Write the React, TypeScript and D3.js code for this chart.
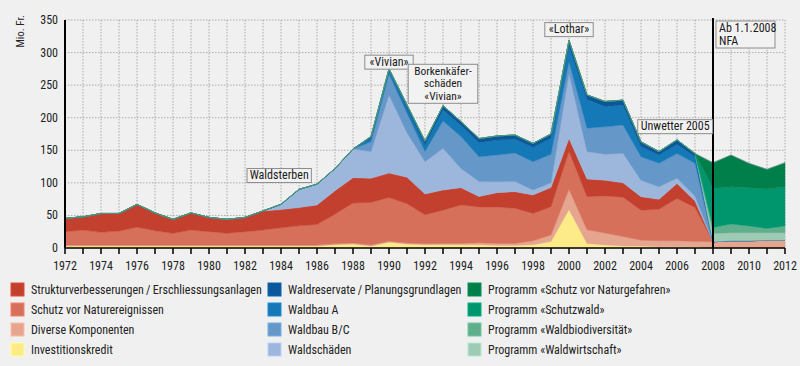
import React from "react";
import * as d3 from "d3";

// Bundesbeiträge Wald 1972–2012, Mio. Fr.
const years = d3.range(1972, 2013);

const investitionskredit = [3, 3, 3, 3, 3, 3, 3, 3, 3, 3, 3, 3, 3, 3, 3, 5, 6, 3, 9, 6, 5, 5, 5, 5, 4, 4, 5, 10, 59, 7, 4.5, 3, 3, 2, 2, 2, 0, 0, 0, 0, 0];
const diverse = [1.5, 1.5, 1.5, 1.5, 1.5, 1.5, 1.5, 1.5, 1.5, 1.5, 1.5, 1.5, 1.5, 1.5, 1.5, 1.5, 1.5, 1.5, 1.5, 1.5, 1.5, 2, 2, 3, 3, 3, 6, 10, 31, 21, 18.5, 14.5, 9, 9, 9, 8, 9.5, 11, 11, 12, 12];
const schutzNatur = [20.5, 23, 19.5, 21.5, 27.5, 22, 18, 23, 20.5, 18, 20.5, 23, 26.5, 29.5, 31.5, 45.5, 61.5, 65.5, 67, 60.5, 44.5, 51, 59, 55, 56, 54, 42, 43.4, 58, 50.8, 57, 60.5, 46, 48.4, 65, 52, 0, 0, 0, 0, 0];
const struktur = [20.6, 20.4, 29, 27, 35, 27.4, 21.5, 26.4, 22, 21.5, 22, 29.4, 28, 28, 30, 36, 39, 37, 37.5, 40.5, 32, 31, 26.6, 16, 22, 25.5, 28.4, 29.6, 20, 27.2, 24, 22, 20.8, 15.3, 23, 10, 0, 0, 0, 0, 0];
const waldschaeden = [0, 0, 0, 0, 0, 0, 0, 0, 0, 0, 0, 0, 8, 28, 32, 34, 44, 41, 120, 68.5, 49.5, 64, 29.4, 23, 16.8, 15.5, 7.6, 7, 100, 42, 40, 45.4, 25.2, 19.3, 8, 8, 0, 0, 0, 0, 0];
const waldbauBC = [0, 0, 0, 0, 0, 0, 0, 0, 0, 0, 0, 0, 0, 0, 0, 0, 0, 15, 32, 30, 15.5, 42, 49, 38, 41, 44, 43.5, 44, 18, 36, 42, 43.4, 36, 36, 38, 50, 0, 0, 0, 0, 0];
const waldbauA = [0, 0, 0, 0, 0, 0, 0, 0, 0, 0, 0, 0, 0, 0, 0, 0, 0, 5, 5, 7, 10, 17, 17, 21.7, 23, 21, 22, 24.4, 23, 44, 31, 30.7, 15.5, 12.8, 14, 10, 0, 0, 0, 0, 0];
const waldreservate = [0, 0, 0, 0, 0, 0, 0, 0, 0, 0, 0, 0, 0, 0, 0, 0, 0, 3, 3, 5.5, 6, 6.5, 6, 6.3, 6.2, 6.5, 6.1, 6.6, 10, 7, 8, 7.5, 7.5, 5.2, 7, 5, 0, 0, 0, 0, 0];
const pWaldwirtschaft = [0, 0, 0, 0, 0, 0, 0, 0, 0, 0, 0, 0, 0, 0, 0, 0, 0, 0, 0, 0, 0, 0, 0, 0, 0, 0, 0, 0, 0, 0, 0, 0, 0, 0, 0, 0, 12.8, 12.5, 12.5, 11.5, 11.5];
const pBiodiversitaet = [0, 0, 0, 0, 0, 0, 0, 0, 0, 0, 0, 0, 0, 0, 0, 0, 0, 0, 0, 0, 0, 0, 0, 0, 0, 0, 0, 0, 0, 0, 0, 0, 0, 0, 0, 0, 9.2, 13.3, 10.3, 6.5, 10.3];
const pSchutzwald = [0, 0, 0, 0, 0, 0, 0, 0, 0, 0, 0, 0, 0, 0, 0, 0, 0, 0, 0, 0, 0, 0, 0, 0, 0, 0, 0, 0, 0, 0, 0, 0, 0, 0, 0, 0, 60, 57.2, 58.8, 60.6, 60.2];
const pNaturgefahren = [0, 0, 0, 0, 0, 0, 0, 0, 0, 0, 0, 0, 0, 0, 0, 0, 0, 0, 0, 0, 0, 0, 0, 0, 0, 0, 0, 0, 0, 0, 0, 0, 0, 0, 0, 0, 39.4, 48.8, 37.4, 30.2, 37];

// stack order, bottom to top
const series = [
  { key: "inv", label: "Investitionskredit", color: "#fdeb88", values: investitionskredit },
  { key: "div", label: "Diverse Komponenten", color: "#e6a58f", values: diverse },
  { key: "sn", label: "Schutz vor Naturereignissen", color: "#d6705a", values: schutzNatur },
  { key: "st", label: "Strukturverbesserungen\u2009/\u2009Erschliessungsanlagen", color: "#c4402e", values: struktur },
  { key: "ws", label: "Waldschäden", color: "#9cb6dc", values: waldschaeden },
  { key: "bc", label: "Waldbau B/C", color: "#6597c9", values: waldbauBC },
  { key: "a", label: "Waldbau A", color: "#1579b7", values: waldbauA },
  { key: "wr", label: "Waldreservate\u2009/\u2009Planungsgrundlagen", color: "#0a5899", values: waldreservate },
  { key: "pww", label: "Programm «Waldwirtschaft»", color: "#9ecbb4", values: pWaldwirtschaft },
  { key: "pwb", label: "Programm «Waldbiodiversität»", color: "#60ae8c", values: pBiodiversitaet },
  { key: "psw", label: "Programm «Schutzwald»", color: "#00966d", values: pSchutzwald },
  { key: "png", label: "Programm «Schutz vor Naturgefahren»", color: "#007f4b", values: pNaturgefahren },
];

// legend columns, top to bottom
const legendCols = [
  ["st", "sn", "div", "inv"],
  ["wr", "a", "bc", "ws"],
  ["png", "psw", "pwb", "pww"],
];

const yTicks = [0, 50, 100, 150, 200, 250, 300, 350];
const xLabels = d3.range(1972, 2013, 2);

const notes = [
  { year: 1983.9, value: 122, lines: ["Waldsterben"] },
  { year: 1990, value: 296, lines: ["«Vivian»"] },
  { year: 1993, value: 282, lines: ["Borkenkäfer-", "schäden", "«Vivian»"] },
  { year: 2000, value: 346, lines: ["«Lothar»"] },
  { year: 2005.9, value: 197, lines: ["Unwetter 2005"] },
];

const FONT = "'Liberation Sans Narrow', 'Roboto Condensed', 'Arial Narrow', 'DejaVu Sans Condensed', sans-serif";

export default function App() {
  const W = 800;
  const H = 366;
  const x = d3.scaleLinear().domain([1972, 2012]).range([65, 785]);
  const y = d3.scaleLinear().domain([0, 350]).range([248, 20]);

  const table = years.map((yr, i) => {
    const row: any = { year: yr };
    series.forEach((s) => (row[s.key] = s.values[i]));
    return row;
  });
  const stacked = d3.stack().keys(series.map((s) => s.key))(table);
  const area = d3
    .area<any>()
    .x((d) => x(d.data.year))
    .y0((d) => y(d[0]))
    .y1((d) => y(d[1]));

  const byKey: any = {};
  series.forEach((s) => (byKey[s.key] = s));

  const lineH = 12.5;

  return (
    <div style={{ position: "absolute", left: 0, top: 0 }}>
      <svg width={W} height={H} style={{ display: "block", fontFamily: FONT }}>
        <rect width={W} height={H} fill="#f0f0f0" />

        {/* grid */}
        {years.map((yr) => (
          <line key={"gx" + yr} x1={x(yr)} x2={x(yr)} y1={y(350)} y2={y(0)} stroke="#9a9a9a" strokeWidth={0.8} strokeDasharray="1.5,1.5" />
        ))}
        {yTicks.map((t) => (
          <line key={"gy" + t} x1={x(1972)} x2={x(2012)} y1={y(t)} y2={y(t)} stroke="#9a9a9a" strokeWidth={0.8} strokeDasharray="1.5,1.5" />
        ))}

        {/* areas */}
        {stacked.map((layer, i) => (
          <path key={layer.key} d={area(layer as any) || ""} fill={series[i].color} stroke={series[i].color} strokeWidth={0.4} />
        ))}
        {/* top outline */}
        <path
          d={d3.line<any>().x((d) => x(d.data.year)).y((d) => y(d[1]))(stacked[stacked.length - 1] as any) || ""}
          fill="none"
          stroke="#8a9a9a"
          strokeWidth={0.6}
        />

        {/* NFA line */}
        <line x1={x(2008)} x2={x(2008)} y1={18} y2={y(0)} stroke="#000" strokeWidth={2} />
        <rect x={x(2008) + 3} y={21} width={59} height={27} fill="#f2f2f2" stroke="#8c8c8c" strokeWidth={1} />
        <text x={x(2008) + 6} y={32} fontSize={12} fill="#1a1a1a">Ab 1.1.2008</text>
        <text x={x(2008) + 6} y={45} fontSize={12} fill="#1a1a1a">NFA</text>

        {/* annotations */}
        {notes.map((n, i) => {
          const cx = x(n.year);
          const top = y(n.value);
          const longest = d3.max(n.lines, (l) => l.length) || 1;
          const w = longest * 5.3 + 6;
          const h = n.lines.length * lineH + 1.5;
          return (
            <g key={"n" + i}>
              <rect x={cx - w / 2} y={top} width={w} height={h} fill="#f2f2f2" stroke="#8c8c8c" strokeWidth={1} />
              {n.lines.map((l, j) => (
                <text key={j} x={cx} y={top + 10.5 + j * lineH} fontSize={n.lines.length > 1 ? 11.5 : 12} fill="#1a1a1a" textAnchor="middle">
                  {l}
                </text>
              ))}
            </g>
          );
        })}

        {/* axes */}
        <line x1={x(1972)} x2={x(1972)} y1={y(350)} y2={y(0)} stroke="#000" strokeWidth={2} />
        <line x1={x(1972)} x2={x(2012)} y1={y(0)} y2={y(0)} stroke="#000" strokeWidth={1.5} />
        {years.map((yr) => (
          <line key={"t" + yr} x1={x(yr)} x2={x(yr)} y1={y(0)} y2={y(0) + 6} stroke="#000" strokeWidth={1.5} />
        ))}
        {xLabels.map((yr) => (
          <text key={"xl" + yr} x={x(yr)} y={270} fontSize={12} fill="#222" textAnchor="middle">
            {yr}
          </text>
        ))}
        {yTicks.map((t) => (
          <text key={"yl" + t} x={58} y={y(t) + 4} fontSize={12} fill="#222" textAnchor="end">
            {t}
          </text>
        ))}
        <text transform="translate(24,15) rotate(-90)" fontSize={11} fill="#222" textAnchor="end">
          Mio. Fr.
        </text>

        {/* legend */}
        {legendCols.map((col, ci) =>
          col.map((k, ri) => {
            const s = byKey[k];
            const lx = [11, 268, 468][ci];
            const ly = 283 + ri * 20;
            return (
              <g key={k}>
                <rect x={lx} y={ly} width={13} height={13} fill={s.color} stroke={d3.color(s.color)!.brighter(0.4).toString()} strokeWidth={1} />
                <text x={lx + 20} y={ly + 11} fontSize={12} fill="#222">
                  {s.label}
                </text>
              </g>
            );
          })
        )}
      </svg>
    </div>
  );
}
